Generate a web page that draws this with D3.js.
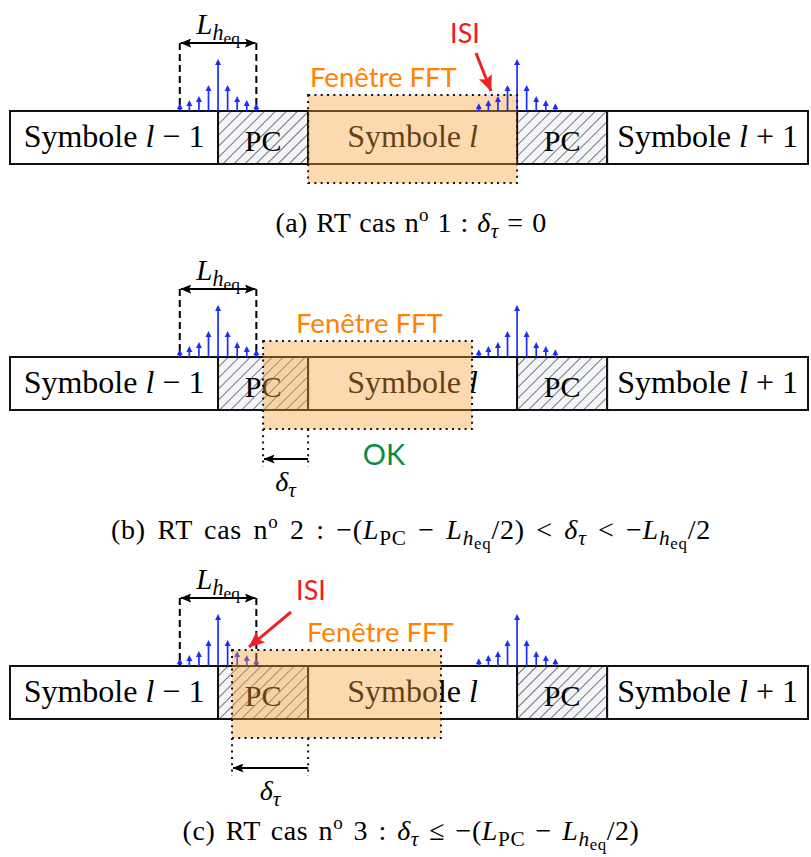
<!DOCTYPE html>
<html><head><meta charset="utf-8">
<script src="https://cdn.jsdelivr.net/npm/d3@7"></script>
<style>body{margin:0;background:#fff}</style>
</head><body><svg id="c" width="811" height="857"></svg>
<script>
// ---------------- data ----------------
const segmentTypes   = ["sym", "pc", "sym", "pc", "sym"];
const segmentSymbols = ["l − 1", "", "l", "", "l + 1"];
const segmentLengths = [2.31, 1, 2.32, 1, 2.23];          // in units of L_PC
const channelTaps    = [0.15, 0.21, 0.29, 0.5, 1.0, 0.5, 0.29, 0.21, 0.15]; // relative amplitudes
const channelLength  = 0.85;                               // L_heq / L_PC
const caseLetters    = ["a", "b", "c"];
const caseNumbers    = ["1", "2", "3"];
const caseDelays     = [0, -0.5, -0.845];                  // δτ / L_PC
const caseFlags      = ["ISI", "OK", "ISI"];

// ---------------- layout ----------------
const panelTop = [111, 357, 666];
const boxH = 53;
const svg = d3.select("#c");
const serif = "'Liberation Serif','DejaVu Serif',serif";
const sans = "Lato,'Open Sans',sans-serif";

const bounds = [0];
segmentLengths.forEach(l => bounds.push(bounds[bounds.length - 1] + l));
const x = d3.scaleLinear().domain([0, bounds[bounds.length - 1]]).range([10, 808]);
const amp = d3.scaleLinear().domain([0, 1]).range([0, 52]);
const tapStep = channelLength / (channelTaps.length - 1);

const defs = svg.append("defs");
const pat = defs.append("pattern").attr("id", "hatch").attr("patternUnits", "userSpaceOnUse")
  .attr("width", 7.8).attr("height", 7.8).attr("patternTransform", "rotate(45)");
pat.append("rect").attr("width", 7.8).attr("height", 7.8).attr("fill", "#f3f5f8");
pat.append("line").attr("x1", 0).attr("y1", 0).attr("x2", 0).attr("y2", 7.8)
  .attr("stroke", "#222").attr("stroke-width", 1.2);
function marker(id, color, w, h) {
  defs.append("marker").attr("id", id).attr("viewBox", `0 0 ${w} ${h}`).attr("refX", w - 0.5).attr("refY", h / 2)
    .attr("markerUnits", "userSpaceOnUse").attr("markerWidth", w).attr("markerHeight", h)
    .attr("orient", "auto-start-reverse")
    .append("path").attr("d", `M0,0 L${w},${h / 2} L0,${h} L${w * 0.2},${h / 2} Z`).attr("fill", color);
}
marker("arrK", "#000", 11, 9);
marker("arrR", "#ee2222", 16, 14);

// rich text helper: parts = [text, level, italic]; level 0 base, 1 sub, 2 subsub, -1 sup
function rich(g, xpos, ypos, fs, parts, anchor) {
  const t = g.append("text").attr("x", xpos).attr("y", ypos).attr("font-family", serif)
    .attr("font-size", fs).attr("text-anchor", anchor || "middle").attr("fill", "#000");
  const off = {0: 0, 1: 0.2, 2: 0.34, "-1": -0.38};
  const size = {0: 1, 1: 0.76, 2: 0.6, "-1": 0.68};
  let cur = 0;
  parts.forEach(([s, lv, it]) => {
    const target = off[lv] * fs;
    t.append("tspan").attr("dy", target - cur).attr("font-size", fs * size[lv])
      .attr("font-style", it ? "italic" : "normal").style("white-space", "pre").text(s);
    cur = target;
  });
  return t;
}
function fitWidth(t, target) {
  const txt = t.text();
  const nc = txt.length, ns = (txt.match(/ /g) || []).length;
  const gap = target - t.node().getComputedTextLength();
  if (gap <= 0) return;
  const ls = Math.min(0.8, 0.45 * gap / nc);
  t.attr("letter-spacing", ls);
  if (ns > 0) t.attr("word-spacing", Math.max(0, (gap - ls * nc) / ns));
}
const Lheq = [["L", 0, true], ["h", 1, true], ["eq", 2, false]];
const dtau = [["δ", 0, true], ["τ", 1, true]];

const captions = [
  [["(a) RT cas n", 0], ["o", -1], [" 1 : ", 0], ...dtau, [" = 0", 0]],
  [["(b) RT cas n", 0], ["o", -1], [" 2 : −(", 0], ["L", 0, true], ["PC", 1], [" − ", 0], ...Lheq, ["/2) < ", 0], ...dtau, [" < −", 0], ...Lheq, ["/2", 0]],
  [["(c) RT cas n", 0], ["o", -1], [" 3 : ", 0], ...dtau, [" ≤ −(", 0], ["L", 0, true], ["PC", 1], [" − ", 0], ...Lheq, ["/2)", 0]]
];
const captionY = [232, 539, 840];
const captionW = [271, 600, 457];
const fftLabelX = [310, 296, 307];
const isiText = [[465, 43], null, [311, 600]];
const isiArrow = [[476, 53, 491, 91], null, [291, 612, 249, 647]];

caseDelays.forEach((delay, ci) => {
  const top = panelTop[ci];
  const g = svg.append("g");

  // symbol / cyclic-prefix boxes
  segmentTypes.forEach((tp, i) => {
    const x0 = x(bounds[i]), x1 = x(bounds[i + 1]);
    g.append("rect").attr("x", x0).attr("y", top).attr("width", x1 - x0).attr("height", boxH)
      .attr("fill", tp === "pc" ? "url(#hatch)" : "#fff").attr("stroke", "#111").attr("stroke-width", 2);
    const cx = (x0 + x1) / 2;
    if (tp === "pc") {
      g.append("text").attr("x", cx).attr("y", top + 40).attr("text-anchor", "middle")
        .attr("font-family", serif).attr("font-size", 30).text("PC");
    } else {
      const s = segmentSymbols[i].split(" ");
      const parts = [["Symbole ", 0], [s[0], 0, true]];
      if (s.length > 1) parts.push([" " + s[1] + " " + s[2], 0]);
      rich(g, cx, top + 36, 32, parts);
    }
  });

  // channel impulse responses (at end of symbols l-1 and l)
  const stemG = g.append("g");
  [bounds[1], bounds[3]].forEach(c => {
    channelTaps.forEach((a, k) => {
      const px = x(c + (k - (channelTaps.length - 1) / 2) * tapStep);
      const tip = top - amp(a);
      stemG.append("line").attr("x1", px).attr("x2", px).attr("y1", top).attr("y2", tip + 4)
        .attr("stroke", "#1a2cff").attr("stroke-width", 1.7);
      stemG.append("path").attr("d", `M${px - 3},${tip + 6} L${px},${tip} L${px + 3},${tip + 6} Z`)
        .attr("fill", "#1a2cff");
    });
  });

  // L_heq bracket
  const bx0 = x(bounds[1] - channelLength / 2), bx1 = x(bounds[1] + channelLength / 2);
  const by = top - 68;
  [bx0, bx1].forEach(px => g.append("line").attr("x1", px).attr("x2", px).attr("y1", by).attr("y2", top)
    .attr("stroke", "#000").attr("stroke-width", 2).attr("stroke-dasharray", "7,4"));
  g.append("line").attr("x1", bx0 + 1).attr("x2", bx1 - 1).attr("y1", by).attr("y2", by)
    .attr("stroke", "#000").attr("stroke-width", 2).attr("marker-start", "url(#arrK)").attr("marker-end", "url(#arrK)");
  rich(g, (bx0 + bx1) / 2, top - 77, 29, Lheq);

  // FFT window
  const wx0 = x(bounds[2] + delay), wx1 = x(bounds[2] + delay + segmentLengths[2]);
  const wy0 = top - 16, wy1 = top + boxH + 19;
  g.append("rect").attr("x", wx0).attr("y", wy0).attr("width", wx1 - wx0).attr("height", wy1 - wy0)
    .attr("fill", "#f7a035").attr("fill-opacity", 0.4);
  if (ci !== 2) stemG.raise();
  g.append("rect").attr("x", wx0).attr("y", wy0).attr("width", wx1 - wx0).attr("height", wy1 - wy0)
    .attr("fill", "none").attr("stroke", "#111").attr("stroke-width", 2).attr("stroke-dasharray", "2,4.3");
  g.append("text").attr("x", fftLabelX[ci]).attr("y", top - 24).attr("font-family", sans)
    .attr("font-size", 27.5).attr("fill", "#ff8200").text("Fenêtre FFT");

  // delay arrow
  if (delay !== 0) {
    const ref = x(bounds[2]);
    const ay = top + boxH + 49;
    [wx0, ref].forEach(px => g.append("line").attr("x1", px).attr("x2", px).attr("y1", wy1).attr("y2", ay + 8)
      .attr("stroke", "#111").attr("stroke-width", 2).attr("stroke-dasharray", "2,4.3"));
    g.append("line").attr("x1", ref).attr("x2", wx0 + 1).attr("y1", ay).attr("y2", ay)
      .attr("stroke", "#000").attr("stroke-width", 2).attr("marker-end", "url(#arrK)");
    rich(g, (wx0 + ref) / 2, ay + 32, 28, dtau);
  }

  // flags
  if (caseFlags[ci] === "OK") {
    g.append("text").attr("x", 384).attr("y", top + boxH + 55).attr("text-anchor", "middle")
      .attr("font-family", sans).attr("font-size", 29).attr("fill", "#0a8a3c").text("OK");
  } else {
    const [tx, ty] = isiText[ci];
    g.append("text").attr("x", tx).attr("y", ty).attr("text-anchor", "middle")
      .attr("font-family", sans).attr("font-size", 27).attr("fill", "#ee1c1c").text("ISI");
    const [a0, a1, a2, a3] = isiArrow[ci];
    g.append("line").attr("x1", a0).attr("y1", a1).attr("x2", a2).attr("y2", a3)
      .attr("stroke", "#ee2222").attr("stroke-width", 3).attr("marker-end", "url(#arrR)");
  }

  const cap = rich(svg, 411, captionY[ci], 28, captions[ci]);
  fitWidth(cap, captionW[ci]);
});
</script></body></html>
